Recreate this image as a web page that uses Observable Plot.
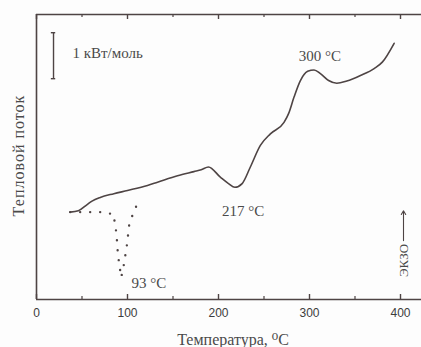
<!DOCTYPE html>
<html>
<head>
<meta charset="utf-8">
<script src="https://cdn.jsdelivr.net/npm/d3@7"></script>
<script src="https://cdn.jsdelivr.net/npm/@observablehq/plot@0.6"></script>
<style>
  html, body { margin: 0; padding: 0; background: #fdfdfd; }
  #chart svg { display: block; }
</style>
</head>
<body>
<div id="chart"></div>
<script>
// Solid DSC curve (temperature, °C ; heat flow, kW/mol relative)
const solidTemp = [37, 46, 56, 61, 70, 85, 100, 122, 133, 155, 173, 181, 189, 202, 211, 218, 226, 235, 246, 257, 272, 277, 283, 290, 298, 305, 312, 321, 330, 341, 356, 371, 380, 393];
const solidFlow = [1.90, 1.93, 2.07, 2.14, 2.22, 2.30, 2.37, 2.48, 2.55, 2.69, 2.78, 2.82, 2.88, 2.66, 2.52, 2.44, 2.52, 2.88, 3.35, 3.60, 3.85, 4.04, 4.40, 4.76, 4.96, 4.99, 4.91, 4.76, 4.70, 4.75, 4.87, 5.02, 5.16, 5.57];

// Dotted curve (93 °C endotherm)
const dotTemp = [37, 50, 61, 73, 85, 86, 88, 88.7, 89.8, 91.5, 93, 95.3, 97, 98.9, 100.3, 101.9, 105.8, 109.9];
const dotFlow = [1.90, 1.90, 1.90, 1.90, 1.85, 1.65, 1.43, 1.17, 0.93, 0.70, 0.48, 0.67, 0.89, 1.11, 1.35, 1.63, 1.85, 2.04];

const majorTicks = [0, 100, 200, 300, 400];
const minorTicks = [50, 150, 250, 350];

const annotations = [
  {t: 311.5, f: 5.30, label: "300 °C"},
  {t: 227, f: 1.93, label: "217 °C"},
  {t: 123.6, f: 0.35, label: "93 °C"}
];
const scaleBarLabel = "1 кВт/моль";
const xLabel = "Температура, ⁰C";
const yLabel = "Тепловой поток";
const exoLabel = "ЭКЗО";

const solid = solidTemp.map((t, i) => ({t, f: solidFlow[i]}));
const dotted = dotTemp.map((t, i) => ({t, f: dotFlow[i]}));

const ink = "#4e4444";
const textInk = "#4a4a4a";
const serif = "'Liberation Serif', 'DejaVu Serif', serif";
const yMax = 285 / 46;

const chart = Plot.plot({
  width: 421,
  height: 347,
  marginLeft: 36,
  marginRight: 0,
  marginTop: 14,
  marginBottom: 48,
  style: {background: "#fdfdfd", fontFamily: "'Liberation Sans', Arial, sans-serif"},
  x: {domain: [0, 385 / 0.91], axis: null},
  y: {domain: [0, yMax], axis: null},
  marks: [
    // frame (left, top, bottom)
    Plot.ruleX([0], {stroke: ink, strokeWidth: 1.6}),
    Plot.ruleY([0, yMax], {stroke: ink, strokeWidth: 1.6}),
    // inward ticks bottom
    Plot.tickX(majorTicks, {x: d => d, insetTop: 280, stroke: ink, strokeWidth: 1.4}),
    Plot.tickX(minorTicks, {x: d => d, insetTop: 282, stroke: ink, strokeWidth: 1.2}),
    // inward ticks top
    Plot.tickX(majorTicks, {x: d => d, insetBottom: 280, stroke: ink, strokeWidth: 1.4}),
    Plot.tickX(minorTicks, {x: d => d, insetBottom: 282, stroke: ink, strokeWidth: 1.2}),
    // tick labels
    Plot.axisX(majorTicks, {tickSize: 0, tickPadding: 9, fontSize: 12, fill: "#3c3c3c", tickFormat: d => d, label: null}),
    // curves
    Plot.line(dotted, {x: "t", y: "f", stroke: ink, strokeWidth: 2.4, strokeDasharray: "0,10", strokeLinecap: "round"}),
    Plot.line(solid, {x: "t", y: "f", stroke: ink, strokeWidth: 1.6, curve: "monotone-x"}),
    // scale bar
    Plot.ruleX([18.7], {y1: 4.8, y2: 5.8, stroke: ink, strokeWidth: 1.4}),
    Plot.ruleY([4.8, 5.8], {x1: 16.3, x2: 21.1, stroke: ink, strokeWidth: 1.4}),
    Plot.text([scaleBarLabel], {x: 39.5, y: 5.35, text: d => d, textAnchor: "start", fontSize: 15, fontFamily: serif, fill: textInk}),
    // peak annotations
    Plot.text(annotations, {x: "t", y: "f", text: "label", fontSize: 15, fontFamily: serif, fill: textInk}),
    // exo arrow
    Plot.arrow([0], {x1: 403.3, x2: 403.3, y1: 1.28, y2: 1.93, stroke: ink, strokeWidth: 1.1, headLength: 6}),
    Plot.text([exoLabel], {x: 403.3, y: 0.85, text: d => d, rotate: -90, fontSize: 13, fontFamily: serif, fill: textInk}),
    // axis labels
    Plot.text([yLabel], {frameAnchor: "left", y: 3.13, dx: -18, text: d => d, rotate: -90, textAnchor: "middle", lineAnchor: "middle", fontSize: 16, fontFamily: serif, fill: textInk}),
    Plot.text([xLabel], {frameAnchor: "bottom", x: 216, dy: 40, text: d => d, textAnchor: "middle", lineAnchor: "middle", fontSize: 16, fontFamily: serif, fill: textInk})
  ]
});
d3.select(chart).selectAll("text").filter(function() { return this.textContent === yLabel; }).style("letter-spacing", "1px");
document.getElementById("chart").appendChild(chart);
</script>
</body>
</html>
